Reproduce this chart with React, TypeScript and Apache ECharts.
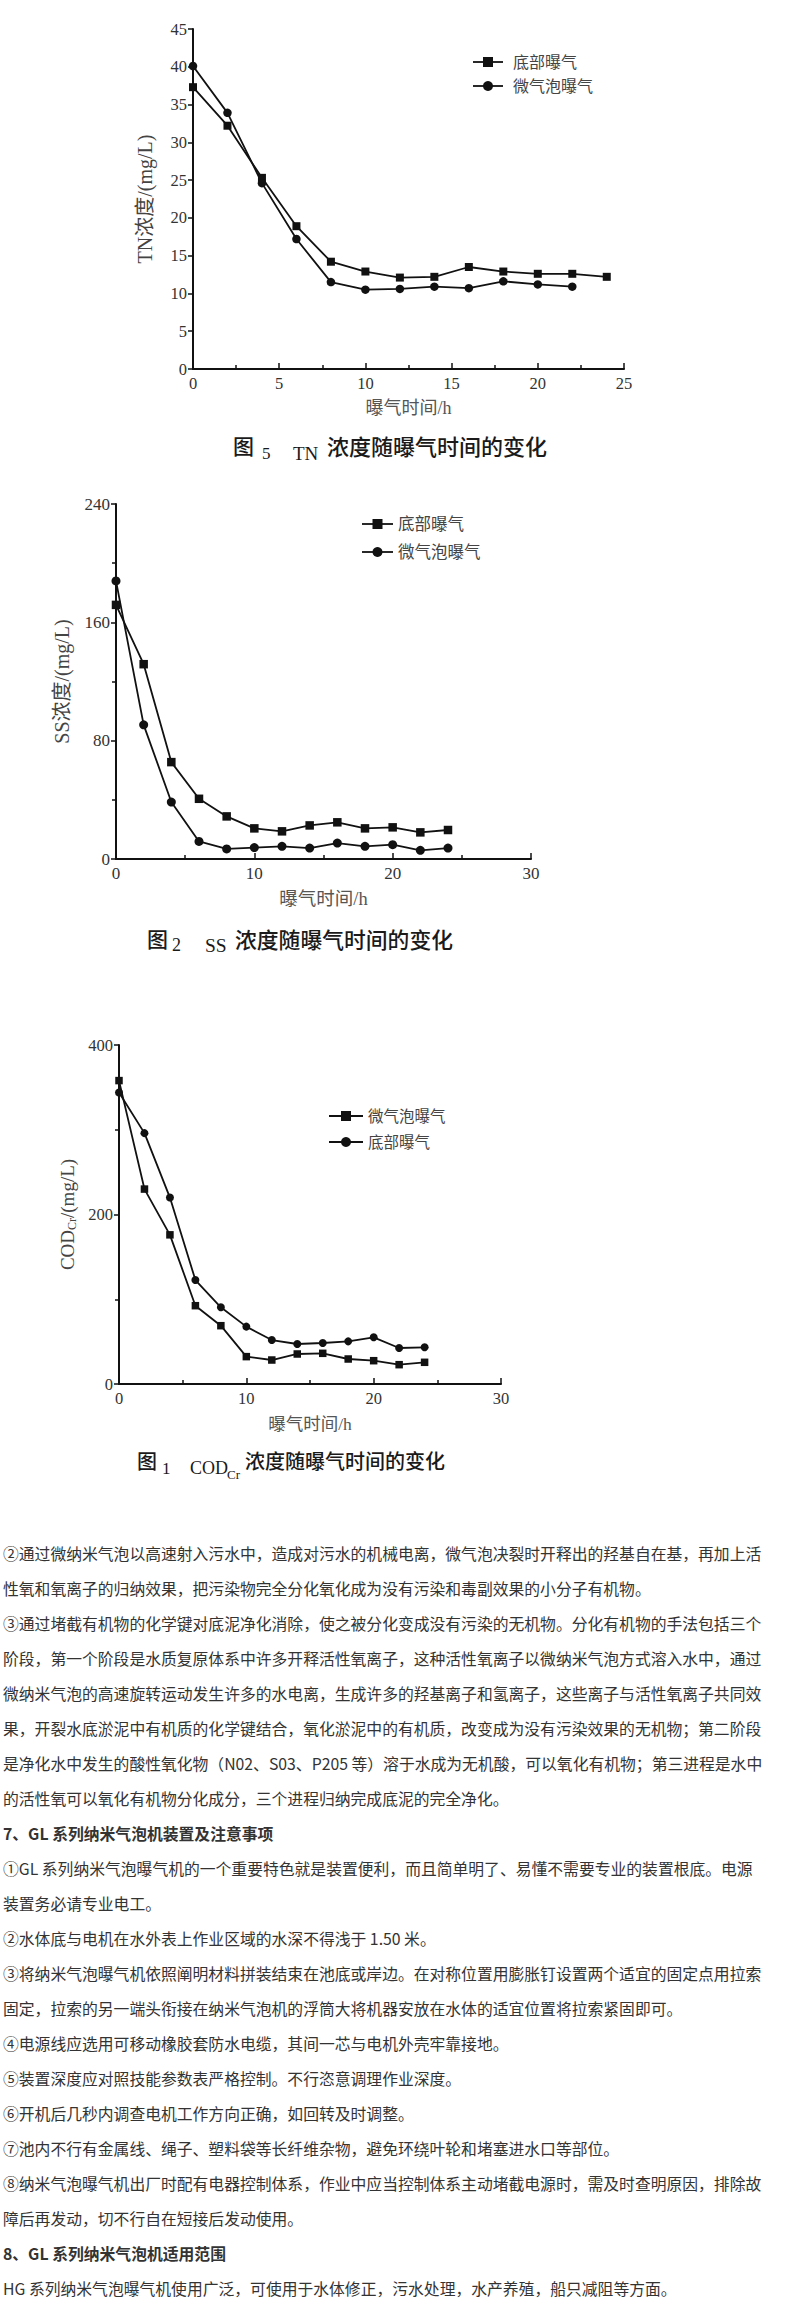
import React, { useEffect, useRef } from "react";
import * as echarts from "echarts";

// ---------- data ----------
const times = [0, 2, 4, 6, 8, 10, 12, 14, 16, 18, 20, 22, 24];

// Fig.5 TN
const tnBottom = [37.3, 32.2, 25.3, 18.9, 14.2, 12.9, 12.1, 12.2, 13.5, 12.9, 12.6, 12.6, 12.2];
const tnMicro = [40.1, 33.9, 24.6, 17.2, 11.5, 10.5, 10.6, 10.9, 10.7, 11.6, 11.2, 10.9];

// Fig.2 SS
const ssBottom = [171.8, 131.7, 65.5, 40.7, 28.8, 20.7, 18.7, 22.7, 24.8, 20.7, 21.4, 18.0, 19.6];
const ssMicro = [188, 90.7, 38.5, 11.9, 6.8, 7.7, 8.6, 7.4, 10.8, 8.6, 9.7, 5.9, 7.4];

// Fig.1 COD
const codMicro = [358, 230, 176, 92.4, 68.8, 32.3, 28.3, 35.4, 36.2, 29.5, 27.5, 22.8, 25.6];
const codBottom = [344, 296, 220, 122.7, 90.5, 67.7, 51.9, 47.2, 48.4, 50.3, 55.1, 42.5, 43.3];

const bottomName = "底部曝气";
const microName = "微气泡曝气";
const xTitle = "曝气时间/h";

const paragraphLines = [
  "②通过微纳米气泡以高速射入污水中，造成对污水的机械电离，微气泡决裂时开释出的羟基自在基，再加上活",
  "性氧和氧离子的归纳效果，把污染物完全分化氧化成为没有污染和毒副效果的小分子有机物。",
  "③通过堵截有机物的化学键对底泥净化消除，使之被分化变成没有污染的无机物。分化有机物的手法包括三个",
  "阶段，第一个阶段是水质复原体系中许多开释活性氧离子，这种活性氧离子以微纳米气泡方式溶入水中，通过",
  "微纳米气泡的高速旋转运动发生许多的水电离，生成许多的羟基离子和氢离子，这些离子与活性氧离子共同效",
  "果，开裂水底淤泥中有机质的化学键结合，氧化淤泥中的有机质，改变成为没有污染效果的无机物；第二阶段",
  "是净化水中发生的酸性氧化物（N02、S03、P205 等）溶于水成为无机酸，可以氧化有机物；第三进程是水中",
  "的活性氧可以氧化有机物分化成分，三个进程归纳完成底泥的完全净化。",
  "#7、GL 系列纳米气泡机装置及注意事项",
  "①GL 系列纳米气泡曝气机的一个重要特色就是装置便利，而且简单明了、易懂不需要专业的装置根底。电源",
  "装置务必请专业电工。",
  "②水体底与电机在水外表上作业区域的水深不得浅于 1.50 米。",
  "③将纳米气泡曝气机依照阐明材料拼装结束在池底或岸边。在对称位置用膨胀钉设置两个适宜的固定点用拉索",
  "固定，拉索的另一端头衔接在纳米气泡机的浮筒大将机器安放在水体的适宜位置将拉索紧固即可。",
  "④电源线应选用可移动橡胶套防水电缆，其间一芯与电机外壳牢靠接地。",
  "⑤装置深度应对照技能参数表严格控制。不行恣意调理作业深度。",
  "⑥开机后几秒内调查电机工作方向正确，如回转及时调整。",
  "⑦池内不行有金属线、绳子、塑料袋等长纤维杂物，避免环绕叶轮和堵塞进水口等部位。",
  "⑧纳米气泡曝气机出厂时配有电器控制体系，作业中应当控制体系主动堵截电源时，需及时查明原因，排除故",
  "障后再发动，切不行自在短接后发动使用。",
  "#8、GL 系列纳米气泡机适用范围",
  "HG 系列纳米气泡曝气机使用广泛，可使用于水体修正，污水处理，水产养殖，船只减阻等方面。",
];

// ---------- styling ----------
const SERIF = "'Liberation Serif', 'Times New Roman', 'Noto Sans CJK SC', serif";
const CJK = "'Noto Sans CJK SC', 'Liberation Serif', sans-serif";
const INK = "#111";

const pairs = (vals: number[]) => vals.map((v, i) => [times[i], v]);

function txt(x: number, y: number, text: string, size: number, o: any = {}) {
  return {
    type: "text",
    x,
    y,
    silent: true,
    style: {
      text,
      fontSize: size,
      fontFamily: o.family || CJK,
      fontWeight: o.weight || "normal",
      fill: o.color || "#333",
      textAlign: o.align || "left",
      align: o.align || "left",
      textVerticalAlign: "middle",
      verticalAlign: "middle",
    },
  };
}

function legendItem(x1: number, x2: number, y: number, textX: number, marker: "rect" | "circle", label: string, size: number) {
  const cx = (x1 + x2) / 2;
  const els: any[] = [
    { type: "line", silent: true, shape: { x1, y1: y, x2, y2: y }, style: { stroke: INK, lineWidth: 1.8 } },
  ];
  if (marker === "rect") {
    els.push({ type: "rect", silent: true, shape: { x: cx - 5, y: y - 5, width: 10, height: 10 }, style: { fill: INK } });
  } else {
    els.push({ type: "circle", silent: true, shape: { cx, cy: y, r: 5 }, style: { fill: INK } });
  }
  els.push(txt(textX, y, label, size, { family: SERIF, color: "#444" }));
  return els;
}

function xAxisCfg(gridIndex: number, max: number, interval: number, labelSize: number, nameSize: number, nameGap: number) {
  return {
    type: "value",
    gridIndex,
    min: 0,
    max,
    interval,
    name: xTitle,
    nameLocation: "middle",
    nameGap,
    nameTextStyle: { fontFamily: SERIF, fontSize: nameSize, color: "#555" },
    axisLine: { show: true, onZero: false, lineStyle: { color: INK, width: 2 } },
    axisTick: { show: true, inside: true, length: 6, lineStyle: { color: INK, width: 1.5 } },
    minorTick: { show: true, splitNumber: 2, length: 4, lineStyle: { color: INK, width: 1.5 } },
    axisLabel: { fontFamily: SERIF, fontSize: labelSize, color: "#333", margin: 6 },
    splitLine: { show: false },
    minorSplitLine: { show: false },
  };
}

function yAxisCfg(gridIndex: number, max: number, interval: number, minor: boolean, name: string, nameGap: number, labelSize: number, nameSize: number, rich?: any) {
  return {
    type: "value",
    gridIndex,
    min: 0,
    max,
    interval,
    name,
    nameLocation: "middle",
    nameRotate: 90,
    nameGap,
    nameTextStyle: { fontFamily: SERIF, fontSize: nameSize, color: "#444", rich },
    axisLine: { show: true, onZero: false, lineStyle: { color: INK, width: 2 } },
    axisTick: { show: true, inside: false, length: 5, lineStyle: { color: INK, width: 1.5 } },
    minorTick: { show: minor, splitNumber: 2, length: 4, lineStyle: { color: INK, width: 1.5 } },
    axisLabel: { fontFamily: SERIF, fontSize: labelSize, color: "#333", margin: 6 },
    splitLine: { show: false },
    minorSplitLine: { show: false },
  };
}

function lineSeries(name: string, vals: number[], idx: number, symbol: string, size: number) {
  return {
    type: "line",
    name,
    xAxisIndex: idx,
    yAxisIndex: idx,
    data: pairs(vals),
    symbol,
    symbolSize: size,
    showSymbol: true,
    itemStyle: { color: INK },
    lineStyle: { color: INK, width: 1.8 },
    silent: true,
  };
}

function buildOption() {
  const graphics: any[] = [];

  // legends
  graphics.push(...legendItem(473, 503, 62, 513, "rect", bottomName, 16));
  graphics.push(...legendItem(473, 503, 86, 513, "circle", microName, 16));
  graphics.push(...legendItem(362, 393, 524, 398, "rect", bottomName, 16.5));
  graphics.push(...legendItem(362, 393, 552, 398, "circle", microName, 16.5));
  graphics.push(...legendItem(329, 363, 1116, 368, "rect", microName, 15.5));
  graphics.push(...legendItem(329, 363, 1142, 368, "circle", bottomName, 15.5));

  // captions
  const capInk = "#1a1a1a";
  graphics.push(txt(233, 445, "图", 21, { color: capInk, weight: 500 }));
  graphics.push(txt(262, 453, "5", 17, { family: SERIF, color: capInk }));
  graphics.push(txt(293, 453, "TN", 19, { family: SERIF, color: capInk }));
  graphics.push(txt(327, 445, "浓度随曝气时间的变化", 22, { color: capInk, weight: 500 }));

  graphics.push(txt(147, 938, "图", 21, { color: capInk, weight: 500 }));
  graphics.push(txt(172, 945, "2", 18, { family: SERIF, color: capInk }));
  graphics.push(txt(205, 945, "SS", 19.5, { family: SERIF, color: capInk }));
  graphics.push(txt(235, 938, "浓度随曝气时间的变化", 21.8, { color: capInk, weight: 500 }));

  graphics.push(txt(137, 1460, "图", 20, { color: capInk, weight: 500 }));
  graphics.push(txt(162, 1468, "1", 17, { family: SERIF, color: capInk }));
  graphics.push(txt(190, 1468, "COD", 18, { family: SERIF, color: capInk }));
  graphics.push(txt(227, 1474, "Cr", 13, { family: SERIF, color: capInk }));
  graphics.push(txt(245, 1460, "浓度随曝气时间的变化", 20, { color: capInk, weight: 500 }));

  // paragraphs
  paragraphLines.forEach((line, i) => {
    const bold = line.startsWith("#");
    const t = bold ? line.slice(1) : line;
    graphics.push(txt(3, 1553 + i * 35, t, 15.8, { weight: bold ? "bold" : "normal", color: "#333" }));
  });

  return {
    animation: false,
    backgroundColor: "#fff",
    grid: [
      { left: 193, top: 29, width: 431, height: 340, containLabel: false },
      { left: 116, top: 504, width: 415, height: 355, containLabel: false },
      { left: 119, top: 1045, width: 382, height: 339, containLabel: false },
    ],
    xAxis: [
      xAxisCfg(0, 25, 5, 16.5, 18, 30),
      xAxisCfg(1, 30, 10, 17, 18.5, 31),
      xAxisCfg(2, 30, 10, 16.5, 17.5, 31),
    ],
    yAxis: [
      yAxisCfg(0, 45, 5, false, "TN浓度/(mg/L)", 38, 16.5, 20),
      yAxisCfg(1, 240, 80, true, "SS浓度/(mg/L)", 44, 17, 20),
      yAxisCfg(2, 400, 200, true, "{a|COD}{s|Cr}{a|/(mg/L)}", 41, 16.5, 19, {
        a: { fontFamily: SERIF, fontSize: 19, color: "#444" },
        s: { fontFamily: SERIF, fontSize: 12, color: "#444", padding: [10, 0, 0, 0] },
      }),
    ],
    series: [
      lineSeries(bottomName, tnBottom, 0, "rect", 8),
      lineSeries(microName, tnMicro, 0, "circle", 8.5),
      lineSeries(bottomName, ssBottom, 1, "rect", 8.5),
      lineSeries(microName, ssMicro, 1, "circle", 9),
      lineSeries(microName, codMicro, 2, "rect", 7.5),
      lineSeries(bottomName, codBottom, 2, "circle", 8),
    ],
    graphic: { elements: graphics },
  };
}

export default function App() {
  const ref = useRef<HTMLDivElement>(null);
  useEffect(() => {
    document.body.style.margin = "0";
    document.body.style.overflow = "hidden";
    if (!ref.current) return;
    const chart = echarts.init(ref.current, undefined, { renderer: "svg" });
    chart.setOption(buildOption() as any);
    return () => chart.dispose();
  }, []);
  return (
    <div
      ref={ref}
      style={{ position: "absolute", left: 0, top: 0, width: 790, height: 2320, background: "#fff" }}
    />
  );
}
